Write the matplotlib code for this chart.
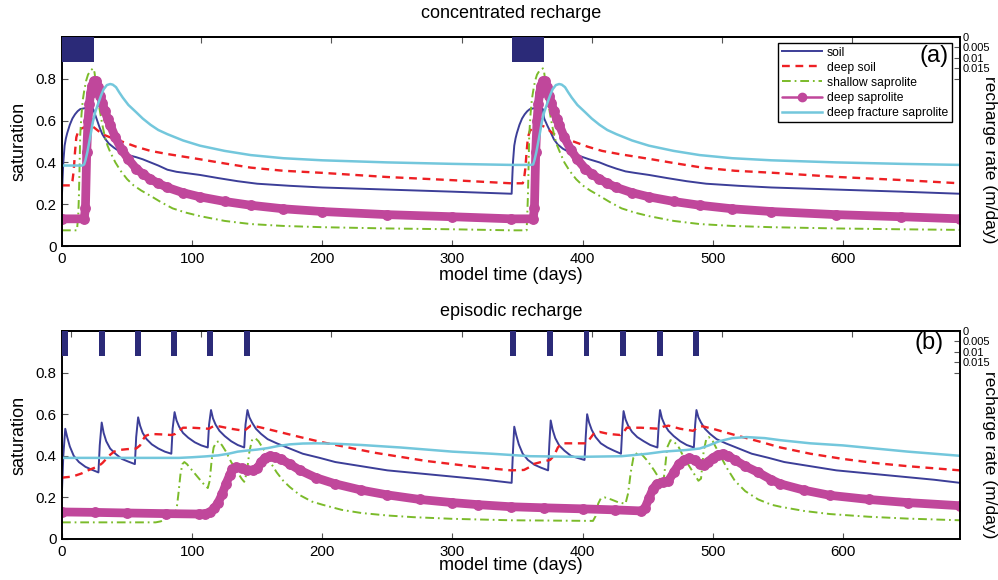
import matplotlib
matplotlib.use('Agg')
import matplotlib.pyplot as plt
from matplotlib.lines import Line2D

plt.rcParams['font.family'] = ['Liberation Sans', 'DejaVu Sans']

# ---------------- data: concentrated recharge (panel a) ----------------
c_soil_t = [0, 0.5, 1, 2, 3, 4, 6, 8, 10, 12, 14, 18, 22, 24, 26.5, 29, 31, 33.5, 36, 40, 46, 51, 57, 62, 68,
            74, 81, 88, 94, 106, 120, 135, 150, 175, 200, 250, 300, 345.5,
            346, 346.5, 347.5, 348.5, 349.5, 351.5, 353.5, 355.5, 357.5, 359.5, 363.5, 368, 369.5, 370.5, 373,
            375, 378, 381, 385, 391, 398, 405, 413, 419, 426, 433, 440, 451, 465, 480, 495, 520, 545, 595, 645,
            690]
c_soil = [0.25, 0.33, 0.40, 0.48, 0.515, 0.54, 0.58, 0.61, 0.63, 0.645, 0.655, 0.66, 0.66, 0.655, 0.61, 0.565,
          0.535, 0.51, 0.49, 0.47, 0.445, 0.435, 0.425, 0.415, 0.40, 0.385, 0.365, 0.355, 0.35, 0.34, 0.325,
          0.31, 0.298, 0.288, 0.28, 0.27, 0.26, 0.25,
          0.33, 0.40, 0.48, 0.515, 0.54, 0.58, 0.61, 0.63, 0.645, 0.655, 0.66, 0.66, 0.655, 0.61, 0.575, 0.55,
          0.51, 0.485, 0.465, 0.445, 0.43, 0.415, 0.40, 0.385, 0.37, 0.357, 0.35, 0.34, 0.325, 0.31, 0.298,
          0.288, 0.28, 0.27, 0.26, 0.25]

c_dsoil_t = [0, 7, 8, 9, 10, 11, 12.5, 14, 18, 22, 24, 26, 31, 37, 46, 57, 68, 81, 93, 106, 125, 145, 170, 200,
             250, 300, 345,
             354, 355, 356, 357, 358, 359.5, 361, 365, 369, 371, 373, 378, 384, 393, 404, 415, 428, 440, 453,
             472, 492, 517, 547, 597, 647, 690]
c_dsoil = [0.29, 0.29, 0.31, 0.36, 0.45, 0.52, 0.55, 0.56, 0.57, 0.575, 0.57, 0.56, 0.535, 0.52, 0.50, 0.475,
           0.455, 0.44, 0.428, 0.415, 0.395, 0.375, 0.36, 0.35, 0.33, 0.315, 0.30,
           0.30, 0.32, 0.37, 0.45, 0.52, 0.55, 0.56, 0.57, 0.575, 0.57, 0.56, 0.535, 0.52, 0.50, 0.475, 0.455,
           0.44, 0.428, 0.415, 0.395, 0.375, 0.36, 0.35, 0.33, 0.315, 0.30]

c_ssap_t = [0, 11.5, 12.5, 13, 13.5, 14, 15, 16, 17, 18.5, 20, 22, 24, 25, 26, 27.5, 29, 31, 33, 35, 37, 41,
            45, 50, 55, 61, 68, 76, 85, 95, 106, 125, 145, 170, 200, 250, 300, 345,
            357, 357.5, 358, 358.5, 359, 360, 361, 362, 363.5, 365, 367, 369.5, 370.5, 371.5, 373, 374.5, 376.5,
            378.5, 380.5, 382.5, 386, 390, 395, 400, 406, 413, 421, 430, 440, 451, 470, 490, 515, 545, 595,
            645, 690]
c_ssap = [0.075, 0.075, 0.15, 0.24, 0.38, 0.53, 0.63, 0.70, 0.74, 0.79, 0.82, 0.84, 0.85, 0.83, 0.78, 0.71,
          0.65, 0.58, 0.52, 0.48, 0.45, 0.40, 0.36, 0.32, 0.29, 0.265, 0.24, 0.21, 0.18, 0.16, 0.143, 0.12,
          0.105, 0.096, 0.09, 0.084, 0.08, 0.075,
          0.075, 0.15, 0.24, 0.38, 0.53, 0.63, 0.70, 0.74, 0.79, 0.82, 0.84, 0.85, 0.83, 0.78, 0.71, 0.65,
          0.58, 0.52, 0.48, 0.45, 0.40, 0.36, 0.32, 0.29, 0.265, 0.24, 0.21, 0.18, 0.16, 0.143, 0.12, 0.105,
          0.096, 0.09, 0.084, 0.08, 0.077]

c_dsap_t = [0, 17, 18, 19, 20, 21, 22, 23, 24.5, 26.5, 28, 29.5, 31, 33, 35, 37, 41, 46, 51, 57, 62, 68, 74,
            81, 93, 106, 125, 145, 170, 200, 250, 300, 345,
            362, 363, 364, 365, 366, 367, 368, 369.5, 371.5, 373, 374.5, 376, 378, 380, 382, 386, 391, 396,
            402, 407, 413, 419, 426, 438, 451, 470, 490, 515, 545, 595, 645, 690]
c_dsap = [0.13, 0.13, 0.18, 0.45, 0.60, 0.68, 0.73, 0.765, 0.79, 0.79, 0.76, 0.72, 0.685, 0.645, 0.61, 0.58,
          0.52, 0.46, 0.415, 0.37, 0.345, 0.32, 0.30, 0.28, 0.255, 0.235, 0.213, 0.195, 0.178, 0.165, 0.15,
          0.14, 0.13,
          0.13, 0.18, 0.45, 0.60, 0.68, 0.73, 0.765, 0.79, 0.79, 0.76, 0.72, 0.685, 0.645, 0.61, 0.58, 0.52,
          0.46, 0.415, 0.37, 0.345, 0.32, 0.30, 0.28, 0.255, 0.235, 0.213, 0.195, 0.178, 0.165, 0.15, 0.14,
          0.13]

c_dfsap_t = [0, 15.4, 17, 18, 19.5, 21, 22.5, 23.6, 25.5, 27.7, 30, 32, 34.5, 37, 39, 41.5, 44, 46.7, 51, 57,
             62, 68, 74, 81, 93, 106, 125, 145, 170, 200, 250, 300, 345,
             360, 362, 363, 364.5, 366, 367.5, 368.6, 370.5, 372.7, 375, 377, 379.5, 382, 384, 386.5, 389,
             391.7, 396, 402, 407, 413, 419, 426, 438, 451, 470, 490, 515, 545, 595, 645, 690]
c_dfsap = [0.385, 0.385, 0.39, 0.41, 0.45, 0.50, 0.55, 0.59, 0.64, 0.68, 0.72, 0.75, 0.77, 0.775, 0.772,
           0.76, 0.735, 0.71, 0.675, 0.64, 0.61, 0.58, 0.555, 0.535, 0.505, 0.48, 0.455, 0.435, 0.42, 0.41,
           0.40, 0.393, 0.388,
           0.388, 0.39, 0.41, 0.45, 0.50, 0.55, 0.59, 0.64, 0.68, 0.72, 0.75, 0.77, 0.775, 0.772, 0.76, 0.735,
           0.71, 0.675, 0.64, 0.61, 0.58, 0.555, 0.535, 0.505, 0.48, 0.455, 0.435, 0.42, 0.41, 0.40, 0.393,
           0.388]

c_bar_start = [0, 346]
c_bar_width = [24.5, 24]
c_bar_rate = [0.012, 0.012]

# ---------------- data: episodic recharge (panel b) ----------------
e_soil_t = [0, 1, 2.5, 4, 6, 9, 13, 18, 23, 28,
            29, 30.5, 32, 34, 37, 41, 46, 51, 56,
            57, 58.5, 60, 62, 65, 69, 74, 79, 84,
            85, 86.5, 88, 90, 93, 97, 102, 107, 112,
            113, 114.5, 116, 118, 121, 125, 130, 135, 140,
            141, 142.5, 144, 146, 149, 153, 158, 165, 175, 185, 198, 210, 230, 250, 275, 300, 325, 345.5,
            346.5, 347.5, 349, 351, 354, 358, 363, 368, 373.5,
            374.5, 375.5, 377, 379, 382, 386, 391, 396, 401.5,
            402.5, 403.5, 405, 407, 410, 414, 419, 424, 429.5,
            430.5, 431.5, 433, 435, 438, 442, 447, 452, 457.5,
            458.5, 459.5, 461, 463, 466, 470, 475, 480, 485.5,
            486.5, 487.5, 489, 491, 494, 498, 503, 510, 520, 530, 543, 555, 575, 595, 620, 645, 670, 690]
e_soil = [0.235, 0.40, 0.53, 0.49, 0.445, 0.40, 0.37, 0.347, 0.333, 0.32,
          0.45, 0.56, 0.51, 0.47, 0.435, 0.41, 0.385, 0.372, 0.36,
          0.49, 0.585, 0.545, 0.51, 0.48, 0.455, 0.435, 0.42, 0.41,
          0.53, 0.61, 0.57, 0.54, 0.51, 0.487, 0.465, 0.45, 0.44,
          0.55, 0.62, 0.58, 0.55, 0.52, 0.495, 0.47, 0.452, 0.44,
          0.55, 0.62, 0.585, 0.56, 0.53, 0.505, 0.48, 0.46, 0.435, 0.41, 0.39, 0.37, 0.35, 0.33, 0.315, 0.30,
          0.285, 0.27,
          0.42, 0.54, 0.50, 0.455, 0.41, 0.38, 0.357, 0.343, 0.33,
          0.46, 0.57, 0.525, 0.485, 0.45, 0.425, 0.40, 0.39, 0.38,
          0.50, 0.60, 0.56, 0.525, 0.49, 0.46, 0.44, 0.425, 0.41,
          0.53, 0.615, 0.575, 0.545, 0.515, 0.49, 0.47, 0.452, 0.44,
          0.55, 0.62, 0.58, 0.55, 0.52, 0.495, 0.47, 0.452, 0.44,
          0.55, 0.62, 0.585, 0.56, 0.53, 0.505, 0.48, 0.46, 0.435, 0.41, 0.39, 0.37, 0.35, 0.33, 0.315, 0.30,
          0.285, 0.27]

e_dsoil_t = [0, 8, 15, 20, 24, 28, 31, 34, 37, 40, 44, 50, 57, 60, 62, 64, 68, 76, 84, 87, 90, 93, 100, 113,
             115, 118, 122, 130, 140, 142, 145, 150, 157, 170, 183, 200, 220, 240, 260, 280, 300, 320, 345,
             355, 359, 362, 368, 375, 378, 381, 384, 395, 403, 406, 409, 413, 420, 429, 431, 434, 445, 459,
             462, 466, 475, 485, 488, 492, 500, 517, 535, 552, 575, 600, 625, 650, 670, 690]
e_dsoil = [0.295, 0.30, 0.315, 0.33, 0.34, 0.35, 0.365, 0.385, 0.405, 0.42, 0.428, 0.432, 0.435, 0.45, 0.475,
           0.495, 0.505, 0.503, 0.50, 0.505, 0.52, 0.535, 0.535, 0.53, 0.538, 0.545, 0.54, 0.53, 0.52, 0.53,
           0.545, 0.54, 0.53, 0.51, 0.49, 0.465, 0.44, 0.415, 0.395, 0.375, 0.36, 0.345, 0.33,
           0.332, 0.345, 0.36, 0.37, 0.38, 0.40, 0.44, 0.46, 0.46, 0.46, 0.485, 0.51, 0.515, 0.505, 0.50,
           0.51, 0.535, 0.535, 0.53, 0.54, 0.545, 0.53, 0.52, 0.535, 0.542, 0.53, 0.50, 0.47, 0.44, 0.41,
           0.385, 0.365, 0.35, 0.34, 0.33]

e_ssap_t = [0, 72, 76, 80, 85, 88, 89.5, 91, 92.5, 94, 96, 100, 104, 108, 112, 113.5, 115, 116.5, 118.5, 120.5,
            123, 126, 130, 134, 138, 140, 142, 144, 146, 148.5, 151, 155, 160, 165, 170, 175, 183, 192, 200,
            215, 230, 250, 270, 300, 345,
            408, 410, 412, 414, 417, 422, 428, 433, 435, 437, 439, 442, 445, 450, 455, 459, 462, 463.5, 465,
            467.5, 470, 474, 478, 484, 489, 491, 493, 495, 497, 500, 505, 511, 517, 525, 535, 545, 552, 570,
            590, 620, 650, 690]
e_ssap = [0.08, 0.08, 0.085, 0.10, 0.12, 0.14, 0.22, 0.31, 0.36, 0.37, 0.36, 0.33, 0.30, 0.27, 0.245, 0.28,
          0.38, 0.44, 0.465, 0.47, 0.45, 0.42, 0.37, 0.33, 0.29, 0.275, 0.32, 0.42, 0.475, 0.485, 0.47, 0.43,
          0.37, 0.32, 0.28, 0.25, 0.21, 0.18, 0.165, 0.14, 0.125, 0.113, 0.105, 0.097, 0.09,
          0.087, 0.11, 0.17, 0.195, 0.20, 0.19, 0.175, 0.17, 0.22, 0.32, 0.39, 0.415, 0.41, 0.375, 0.33,
          0.29, 0.27, 0.35, 0.44, 0.475, 0.47, 0.44, 0.39, 0.33, 0.28, 0.29, 0.42, 0.48, 0.49, 0.47, 0.41,
          0.34, 0.28, 0.23, 0.19, 0.165, 0.155, 0.135, 0.12, 0.107, 0.098, 0.09]

e_dsap_t = [0, 25, 50, 80, 105, 110, 114, 117, 120, 123, 126, 129, 131, 134, 138, 142, 147, 150, 153, 156, 160,
            164, 168, 175, 183, 195, 210, 230, 250, 275, 300, 320, 345,
            370, 400, 425, 445, 448, 451, 454, 457, 462, 466, 470, 474, 478, 482, 486, 490, 493, 496, 500, 504,
            508, 512, 517, 525, 535, 545, 552, 570, 590, 620, 650, 690]
e_dsap = [0.13, 0.128, 0.125, 0.122, 0.12, 0.122, 0.13, 0.148, 0.175, 0.215, 0.265, 0.31, 0.335, 0.345, 0.34,
          0.332, 0.33, 0.34, 0.37, 0.39, 0.40, 0.395, 0.385, 0.36, 0.33, 0.295, 0.265, 0.235, 0.212, 0.19,
          0.175, 0.165, 0.155,
          0.15, 0.145, 0.14, 0.135, 0.15, 0.195, 0.24, 0.265, 0.272, 0.28, 0.32, 0.36, 0.38, 0.39, 0.38, 0.36,
          0.358, 0.37, 0.39, 0.405, 0.41, 0.40, 0.38, 0.35, 0.32, 0.285, 0.265, 0.235, 0.21, 0.19, 0.175,
          0.16]

e_dfsap_t = [0, 50, 90, 100, 110, 120, 128, 135, 142, 150, 158, 166, 175, 185, 195, 210, 230, 260, 300, 330,
             360, 398, 430, 450, 462, 480, 490, 497, 505, 515, 526, 540, 552, 575, 600, 625, 650, 670, 690]
e_dfsap = [0.39, 0.39, 0.39, 0.393, 0.397, 0.402, 0.41, 0.42, 0.425, 0.43, 0.437, 0.447, 0.455, 0.459, 0.46,
           0.458, 0.452, 0.44, 0.42, 0.41, 0.398, 0.395, 0.398, 0.41, 0.42, 0.428, 0.435, 0.45, 0.47, 0.485,
           0.49, 0.485, 0.475, 0.46, 0.45, 0.435, 0.42, 0.41, 0.40]

e_bar_start = [0, 28.5, 56, 84, 111.5, 140, 344.6, 373, 400.8, 428.5, 457, 484.6]
e_bar_width = [4.5] * 12
e_bar_rate = [0.012] * 12

series_names = ['soil', 'deep soil', 'shallow saprolite', 'deep saprolite', 'deep fracture saprolite']
x_ticks = [0, 100, 200, 300, 400, 500, 600]
y_ticks = [0, 0.2, 0.4, 0.6, 0.8]
y_tick_labels = ['0', '0.2', '0.4', '0.6', '0.8']
r_ticks = [0, 0.005, 0.01, 0.015, 0.02]
r_tick_labels = ['0', '0.005', '0.01', '0.015', '']

# ---------------- styles ----------------
BAR = '#2B2A78'
styles = {
    'soil': dict(color='#3C3E98', lw=1.4, ls='-'),
    'deep soil': dict(color='#EE2024', lw=1.7, ls=(0, (3.3, 2.4))),
    'shallow saprolite': dict(color='#7BBB2A', lw=1.4, ls=(0, (4.5, 2.0, 0.9, 2.0))),
    'deep saprolite': dict(color='#C0479B', lw=6.3, ls='-', marker='o', ms=6.8, mec='#C0479B',
                           solid_joinstyle='round', solid_capstyle='round'),
    'deep fracture saprolite': dict(color='#73C7DC', lw=1.8, ls='-'),
}

W, H = 998, 580
fig = plt.figure(figsize=(W / 100, H / 100), dpi=100)


def px_rect(left, top, right, bottom):
    return [left / W, 1 - bottom / H, (right - left) / W, (bottom - top) / H]


def panel(rect, data, bstart, bwidth, brate, title, tag, tag_xy, ys, legend):
    ax = fig.add_axes(rect)
    for (t, v), name in zip(data, series_names):
        ax.plot(t, v, label=name, **styles[name])
    ax.set_xlim(0, 690)
    ax.set_ylim(0, 1)
    ax.set_xticks(x_ticks)
    ax.set_xticklabels([str(x) for x in x_ticks])
    ax.set_yticks(y_ticks)
    ax.set_yticklabels(y_tick_labels)
    ax.tick_params(direction='in', length=4, width=0.8, color='#555555', labelsize=10.8, pad=4,
                   right=True, top=False)
    for s in ax.spines.values():
        s.set_linewidth(1.2)

    sec = ax.secondary_xaxis('top', functions=(lambda x: x - 7, lambda x: x + 7))
    sec.set_xticks(x_ticks)
    sec.tick_params(direction='in', length=4, width=0.8, color='#555555', labeltop=False)
    sec.spines['top'].set_linewidth(1.2)

    ax2 = ax.twinx()
    ax2.bar(bstart, brate, width=bwidth, align='edge', color=BAR, edgecolor='none', zorder=3)
    ax2.set_ylim(0.1, 0)
    ax2.set_yticks(r_ticks)
    ax2.set_yticklabels(r_tick_labels)
    ax2.tick_params(direction='in', length=4, width=0.8, color='#555555', labelsize=8, pad=2)
    for s in ax2.spines.values():
        s.set_linewidth(1.2)

    if legend:
        handles = []
        for name in series_names:
            st = dict(styles[name])
            if name == 'deep saprolite':
                st.update(lw=1.8, ms=6)
            handles.append(Line2D([], [], **st))
        lg = ax2.legend(handles, series_names, loc='upper right', bbox_to_anchor=(0.991, 0.971),
                        borderaxespad=0, fancybox=False, edgecolor='black', framealpha=1, fontsize=8.7,
                        handlelength=3.3, labelspacing=0.25, borderpad=0.3, handletextpad=0.45)
        lg.get_frame().set_linewidth(1.0)
        lg.set_zorder(5)

    ax2.text(tag_xy[0], tag_xy[1], tag, transform=ax2.transAxes, fontsize=17, ha='center', va='center',
             zorder=10)

    ty, xly, yly, ryl = ys
    fig.text(511 / W, 1 - ty / H, title, ha='center', va='center', fontsize=13)
    fig.text(511 / W, 1 - xly / H, 'model time (days)', ha='center', va='center', fontsize=13)
    fig.text(19 / W, 1 - yly / H, 'saturation', ha='center', va='center', fontsize=13, rotation=90)
    fig.text(990 / W, 1 - ryl / H, 'recharge rate (m/day)', ha='center', va='center', fontsize=12.5,
             rotation=270)
    return ax


top_data = [(c_soil_t, c_soil), (c_dsoil_t, c_dsoil), (c_ssap_t, c_ssap), (c_dsap_t, c_dsap),
            (c_dfsap_t, c_dfsap)]
bot_data = [(e_soil_t, e_soil), (e_dsoil_t, e_dsoil), (e_ssap_t, e_ssap), (e_dsap_t, e_dsap),
            (e_dfsap_t, e_dfsap)]

panel(px_rect(62, 37, 960, 246), top_data, c_bar_start, c_bar_width, c_bar_rate,
      'concentrated recharge', '(a)', (0.971, 0.909), (14, 275, 141, 160), True)
panel(px_rect(62, 331, 960, 539), bot_data, e_bar_start, e_bar_width, e_bar_rate,
      'episodic recharge', '(b)', (0.966, 0.942), (312, 566, 435, 455), False)

fig.savefig('out.png', dpi=100)
